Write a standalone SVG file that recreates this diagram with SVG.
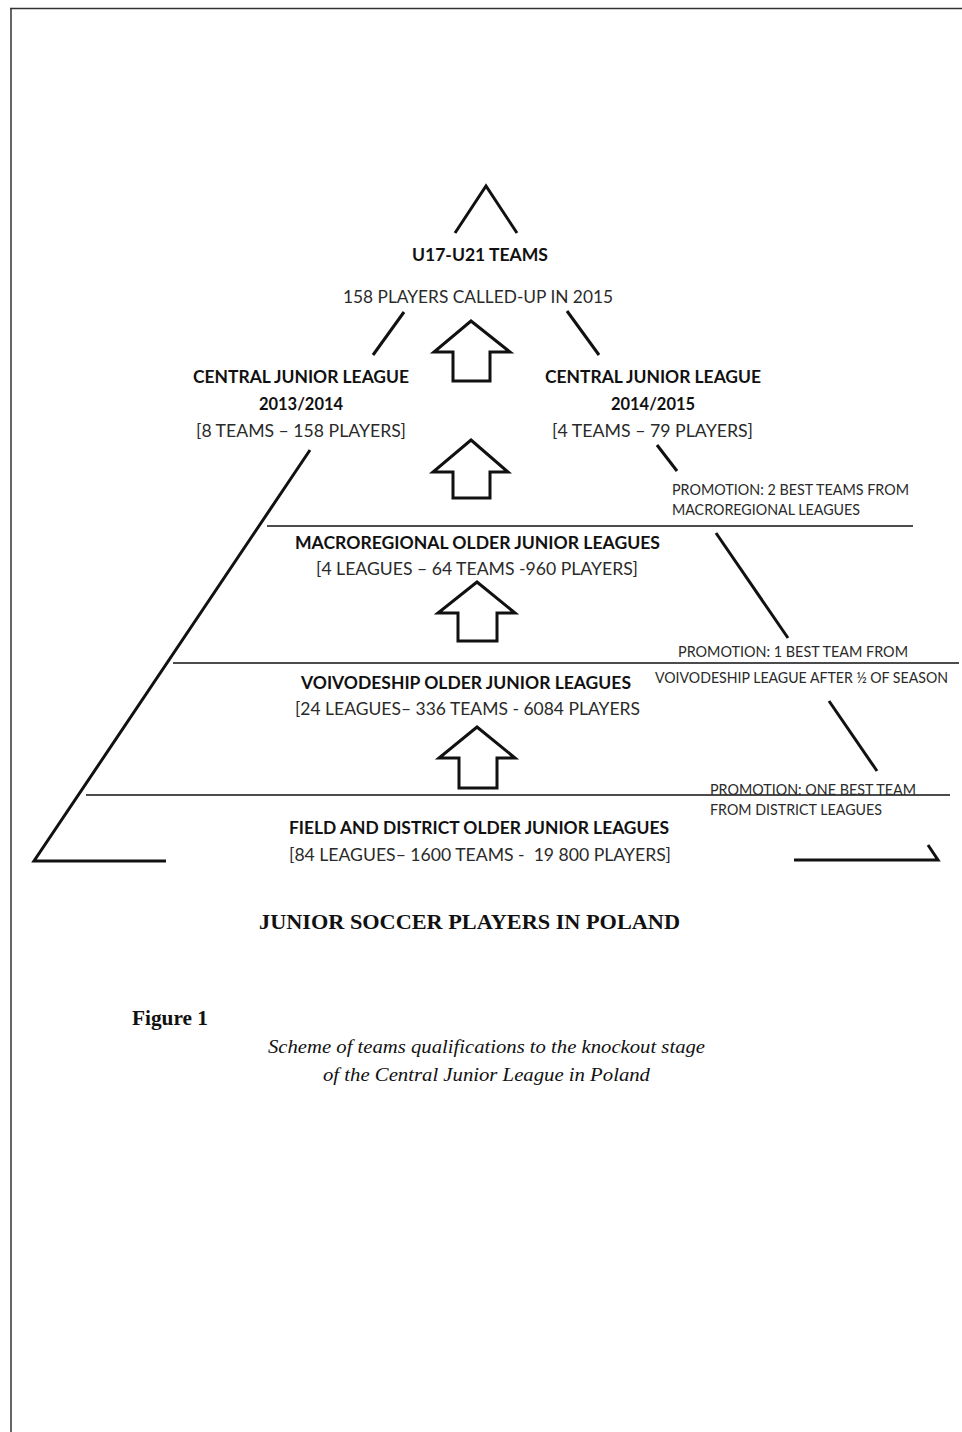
<svg xmlns="http://www.w3.org/2000/svg" width="962" height="1432" viewBox="0 0 962 1432">
<style>
.b{font-family:Lato,"Open Sans","Liberation Sans",sans-serif;font-weight:bold;font-size:16.5px;fill:#111}
.r{font-family:Lato,"Open Sans","Liberation Sans",sans-serif;font-size:16.5px;fill:#2a2a2a}
.s{font-family:Lato,"Open Sans","Liberation Sans",sans-serif;font-size:14.5px;fill:#2a2a2a}
.t{font-family:"Liberation Serif","DejaVu Serif",serif;font-weight:bold;font-size:20px;fill:#111}
.i{font-family:"Liberation Serif","DejaVu Serif",serif;font-style:italic;font-size:19px;fill:#111}
.ln{stroke:#111;stroke-width:3;fill:none;stroke-linecap:butt}
.sep{stroke:#111;stroke-width:1.5;fill:none}
.ar{fill:#fff;stroke:#111;stroke-width:3;stroke-linejoin:miter}
</style>
<rect x="0" y="0" width="962" height="1432" fill="#fff"/>
<g id="page-border">
<line x1="10" y1="8.5" x2="962" y2="8.5" stroke="#333" stroke-width="1.5"/>
<line x1="11" y1="8" x2="11" y2="1432" stroke="#333" stroke-width="1.5"/>
</g>
<g id="connectors">
<polyline class="ln" points="455,233 486,186 517,233"/>
<line class="ln" x1="404" y1="312" x2="373" y2="355"/>
<line class="ln" x1="567" y1="311" x2="599" y2="355"/>
<polyline class="ln" points="310,450 34,861 166,861"/>
<line class="ln" x1="657" y1="445" x2="677" y2="471"/>
<line class="ln" x1="716" y1="533" x2="788" y2="638"/>
<line class="ln" x1="829" y1="701" x2="877" y2="771"/>
<polyline class="ln" points="794,860 938,860 928,845"/>
<line class="sep" x1="267" y1="526" x2="913" y2="526"/>
<line class="sep" x1="173" y1="663" x2="959" y2="663"/>
<line class="sep" x1="86" y1="795" x2="950" y2="795"/>
</g>
<g id="arrows">
<polygon class="ar" points="471,321 510,352 490,352 490,381 453,381 453,352 434,352"/>
<polygon class="ar" points="471,440 508,472 490,472 490,498 453,498 453,472 433,472"/>
<polygon class="ar" points="477,582 515,613 497,613 497,641 458,641 458,613 438,613"/>
<polygon class="ar" points="477,727 515,758 497,758 497,788 459,788 459,758 439,758"/>
</g>
<g id="node-u17">
<text class="b" x="412" y="261" textLength="136" lengthAdjust="spacingAndGlyphs">U17-U21 TEAMS</text>
<text class="r" x="343" y="303" textLength="270" lengthAdjust="spacingAndGlyphs">158 PLAYERS CALLED-UP IN 2015</text>
</g>
<g id="node-cjl-2013">
<text class="b" x="193" y="383" textLength="216" lengthAdjust="spacingAndGlyphs">CENTRAL JUNIOR LEAGUE</text>
<text class="b" x="301" y="410" text-anchor="middle">2013/2014</text>
<text class="r" x="196" y="437" textLength="210" lengthAdjust="spacingAndGlyphs">[8 TEAMS – 158 PLAYERS]</text>
</g>
<g id="node-cjl-2014">
<text class="b" x="545" y="383" textLength="216" lengthAdjust="spacingAndGlyphs">CENTRAL JUNIOR LEAGUE</text>
<text class="b" x="653" y="410" text-anchor="middle">2014/2015</text>
<text class="r" x="552" y="437" textLength="201" lengthAdjust="spacingAndGlyphs">[4 TEAMS – 79 PLAYERS]</text>
</g>
<g id="note-promo-1">
<text class="s" x="672" y="495" textLength="237" lengthAdjust="spacingAndGlyphs">PROMOTION: 2 BEST TEAMS FROM</text>
<text class="s" x="672" y="515" textLength="188" lengthAdjust="spacingAndGlyphs">MACROREGIONAL LEAGUES</text>
</g>
<g id="node-macro">
<text class="b" x="295" y="549" textLength="365" lengthAdjust="spacingAndGlyphs">MACROREGIONAL OLDER JUNIOR LEAGUES</text>
<text class="r" x="316" y="575" textLength="322" lengthAdjust="spacingAndGlyphs">[4 LEAGUES – 64 TEAMS -960 PLAYERS]</text>
</g>
<g id="note-promo-2">
<text class="s" x="678" y="657" textLength="230" lengthAdjust="spacingAndGlyphs">PROMOTION: 1 BEST TEAM FROM</text>
<text class="s" x="655" y="683" textLength="293" lengthAdjust="spacingAndGlyphs">VOIVODESHIP LEAGUE AFTER ½ OF SEASON</text>
</g>
<g id="node-voivo">
<text class="b" x="301" y="689" textLength="330" lengthAdjust="spacingAndGlyphs">VOIVODESHIP OLDER JUNIOR LEAGUES</text>
<text class="r" x="295" y="715" textLength="345" lengthAdjust="spacingAndGlyphs">[24 LEAGUES– 336 TEAMS - 6084 PLAYERS</text>
</g>
<g id="note-promo-3">
<text class="s" x="710" y="795" textLength="206" lengthAdjust="spacingAndGlyphs">PROMOTION: ONE BEST TEAM</text>
<text class="s" x="710" y="815" textLength="172" lengthAdjust="spacingAndGlyphs">FROM DISTRICT LEAGUES</text>
</g>
<g id="node-field">
<text class="b" x="289" y="834" textLength="380" lengthAdjust="spacingAndGlyphs">FIELD AND DISTRICT OLDER JUNIOR LEAGUES</text>
<text class="r" x="289" y="861" textLength="382" lengthAdjust="spacingAndGlyphs" xml:space="preserve">[84 LEAGUES– 1600 TEAMS -  19 800 PLAYERS]</text>
</g>
<g id="caption">
<text class="t" x="259" y="929" textLength="421" lengthAdjust="spacingAndGlyphs">JUNIOR SOCCER PLAYERS IN POLAND</text>
<text class="t" x="132" y="1025" textLength="76" lengthAdjust="spacingAndGlyphs">Figure 1</text>
<text class="i" x="268" y="1053" textLength="437" lengthAdjust="spacingAndGlyphs">Scheme of teams qualifications to the knockout stage</text>
<text class="i" x="323" y="1081" textLength="327" lengthAdjust="spacingAndGlyphs">of the Central Junior League in Poland</text>
</g>
</svg>
